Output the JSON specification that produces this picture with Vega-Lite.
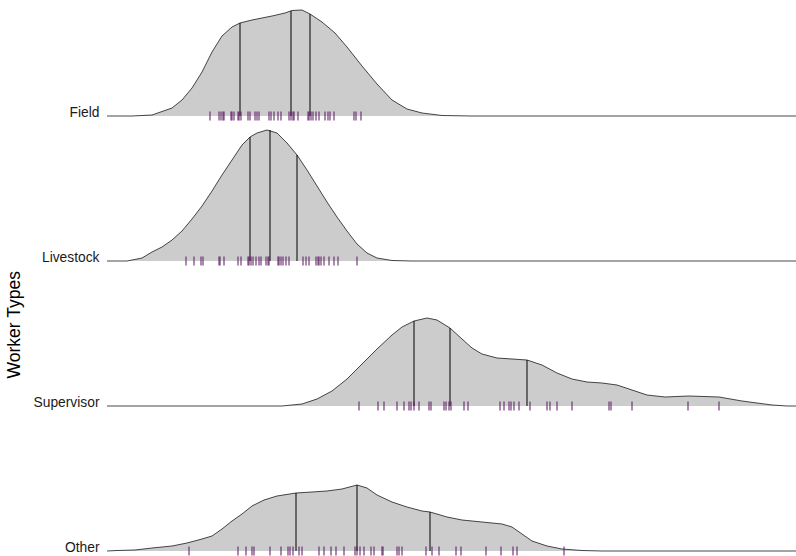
{
"$schema": "https://vega.github.io/schema/vega-lite/v6.json",
"padding": {"left": 5, "top": 0, "right": 0, "bottom": 0},
"background": "white",
"bounds": "flush",
"spacing": 29,
"title": {"text": "Worker Types", "orient": "left", "anchor": "middle", "fontSize": 17.5, "fontWeight": "normal", "font": "Liberation Sans", "color": "#000000", "dx": -47, "offset": 10},
"data": {"values": [
{"g":"Field","k":"c","x":0,"d":0},{"g":"Field","k":"c","x":2.5,"d":0},{"g":"Field","k":"c","x":4.5,"d":0.01},{"g":"Field","k":"c","x":6.5,"d":0.08},{"g":"Field","k":"c","x":7.5,"d":0.16},{"g":"Field","k":"c","x":8.5,"d":0.28},{"g":"Field","k":"c","x":9.5,"d":0.44},{"g":"Field","k":"c","x":10.5,"d":0.64},{"g":"Field","k":"c","x":11.5,"d":0.80},{"g":"Field","k":"c","x":12.5,"d":0.89},{"g":"Field","k":"c","x":13.3,"d":0.93},{"g":"Field","k":"c","x":14.5,"d":0.96},{"g":"Field","k":"c","x":15.5,"d":0.98},{"g":"Field","k":"c","x":16.5,"d":1.00},{"g":"Field","k":"c","x":17.8,"d":1.03},{"g":"Field","k":"c","x":18.5,"d":1.055},{"g":"Field","k":"c","x":19.5,"d":1.06},{"g":"Field","k":"c","x":20.3,"d":1.02},{"g":"Field","k":"c","x":21.5,"d":0.94},{"g":"Field","k":"c","x":22.8,"d":0.83},{"g":"Field","k":"c","x":24,"d":0.69},{"g":"Field","k":"c","x":25.5,"d":0.50},{"g":"Field","k":"c","x":27,"d":0.32},{"g":"Field","k":"c","x":28.5,"d":0.16},{"g":"Field","k":"c","x":30,"d":0.07},{"g":"Field","k":"c","x":31.5,"d":0.03},{"g":"Field","k":"c","x":33.5,"d":0.005},{"g":"Field","k":"c","x":36.5,"d":0},{"g":"Field","k":"c","x":69.1,"d":0},
{"g":"Field","k":"q","x":13.3,"d":0.93},{"g":"Field","k":"q","x":18.4,"d":1.05},{"g":"Field","k":"q","x":20.3,"d":1.02},
{"g":"Field","k":"r","x":10.3},{"g":"Field","k":"r","x":11.2},{"g":"Field","k":"r","x":11.4},{"g":"Field","k":"r","x":11.6},{"g":"Field","k":"r","x":11.7},{"g":"Field","k":"r","x":12.4},{"g":"Field","k":"r","x":12.5},{"g":"Field","k":"r","x":12.7},{"g":"Field","k":"r","x":13.1},{"g":"Field","k":"r","x":13.2},{"g":"Field","k":"r","x":13.4},{"g":"Field","k":"r","x":14.1},{"g":"Field","k":"r","x":14.3},{"g":"Field","k":"r","x":14.8},{"g":"Field","k":"r","x":15.0},{"g":"Field","k":"r","x":15.2},{"g":"Field","k":"r","x":16.2},{"g":"Field","k":"r","x":16.4},{"g":"Field","k":"r","x":16.7},{"g":"Field","k":"r","x":17.1},{"g":"Field","k":"r","x":17.4},{"g":"Field","k":"r","x":18.2},{"g":"Field","k":"r","x":18.4},{"g":"Field","k":"r","x":18.6},{"g":"Field","k":"r","x":18.7},{"g":"Field","k":"r","x":19.1},{"g":"Field","k":"r","x":20.1},{"g":"Field","k":"r","x":20.2},{"g":"Field","k":"r","x":20.4},{"g":"Field","k":"r","x":20.6},{"g":"Field","k":"r","x":20.9},{"g":"Field","k":"r","x":21.2},{"g":"Field","k":"r","x":21.8},{"g":"Field","k":"r","x":22.1},{"g":"Field","k":"r","x":22.3},{"g":"Field","k":"r","x":22.7},{"g":"Field","k":"r","x":24.7},{"g":"Field","k":"r","x":24.9},{"g":"Field","k":"r","x":25.4},
{"g":"Livestock","k":"c","x":0,"d":0},{"g":"Livestock","k":"c","x":2,"d":0},{"g":"Livestock","k":"c","x":3.5,"d":0.03},{"g":"Livestock","k":"c","x":4.5,"d":0.09},{"g":"Livestock","k":"c","x":5.5,"d":0.14},{"g":"Livestock","k":"c","x":6.5,"d":0.21},{"g":"Livestock","k":"c","x":7.5,"d":0.30},{"g":"Livestock","k":"c","x":8.5,"d":0.42},{"g":"Livestock","k":"c","x":9.5,"d":0.55},{"g":"Livestock","k":"c","x":10.5,"d":0.70},{"g":"Livestock","k":"c","x":11.5,"d":0.86},{"g":"Livestock","k":"c","x":12.5,"d":1.01},{"g":"Livestock","k":"c","x":13.5,"d":1.16},{"g":"Livestock","k":"c","x":14.3,"d":1.24},{"g":"Livestock","k":"c","x":15,"d":1.28},{"g":"Livestock","k":"c","x":16,"d":1.31},{"g":"Livestock","k":"c","x":17,"d":1.28},{"g":"Livestock","k":"c","x":18,"d":1.18},{"g":"Livestock","k":"c","x":19,"d":1.06},{"g":"Livestock","k":"c","x":20,"d":0.91},{"g":"Livestock","k":"c","x":21,"d":0.75},{"g":"Livestock","k":"c","x":22,"d":0.59},{"g":"Livestock","k":"c","x":23,"d":0.44},{"g":"Livestock","k":"c","x":24,"d":0.30},{"g":"Livestock","k":"c","x":25,"d":0.17},{"g":"Livestock","k":"c","x":26,"d":0.08},{"g":"Livestock","k":"c","x":27,"d":0.03},{"g":"Livestock","k":"c","x":28.5,"d":0.005},{"g":"Livestock","k":"c","x":30.5,"d":0},{"g":"Livestock","k":"c","x":69.1,"d":0},
{"g":"Livestock","k":"q","x":14.3,"d":1.24},{"g":"Livestock","k":"q","x":16.3,"d":1.31},{"g":"Livestock","k":"q","x":19,"d":1.06},
{"g":"Livestock","k":"r","x":7.9},{"g":"Livestock","k":"r","x":8.7},{"g":"Livestock","k":"r","x":9.4},{"g":"Livestock","k":"r","x":9.6},{"g":"Livestock","k":"r","x":11.2},{"g":"Livestock","k":"r","x":11.3},{"g":"Livestock","k":"r","x":11.7},{"g":"Livestock","k":"r","x":13.1},{"g":"Livestock","k":"r","x":13.4},{"g":"Livestock","k":"r","x":14.1},{"g":"Livestock","k":"r","x":14.2},{"g":"Livestock","k":"r","x":14.4},{"g":"Livestock","k":"r","x":14.6},{"g":"Livestock","k":"r","x":14.9},{"g":"Livestock","k":"r","x":15.2},{"g":"Livestock","k":"r","x":15.4},{"g":"Livestock","k":"r","x":15.9},{"g":"Livestock","k":"r","x":16.1},{"g":"Livestock","k":"r","x":16.2},{"g":"Livestock","k":"r","x":17.1},{"g":"Livestock","k":"r","x":17.2},{"g":"Livestock","k":"r","x":17.4},{"g":"Livestock","k":"r","x":17.6},{"g":"Livestock","k":"r","x":17.9},{"g":"Livestock","k":"r","x":18.2},{"g":"Livestock","k":"r","x":19.6},{"g":"Livestock","k":"r","x":19.9},{"g":"Livestock","k":"r","x":20.2},{"g":"Livestock","k":"r","x":20.9},{"g":"Livestock","k":"r","x":21.1},{"g":"Livestock","k":"r","x":21.2},{"g":"Livestock","k":"r","x":21.4},{"g":"Livestock","k":"r","x":21.7},{"g":"Livestock","k":"r","x":22.2},{"g":"Livestock","k":"r","x":22.7},{"g":"Livestock","k":"r","x":23.1},{"g":"Livestock","k":"r","x":25.0},
{"g":"Supervisor","k":"c","x":0,"d":0},{"g":"Supervisor","k":"c","x":17.5,"d":0},{"g":"Supervisor","k":"c","x":19.5,"d":0.02},{"g":"Supervisor","k":"c","x":21,"d":0.07},{"g":"Supervisor","k":"c","x":22.5,"d":0.15},{"g":"Supervisor","k":"c","x":24,"d":0.27},{"g":"Supervisor","k":"c","x":25.5,"d":0.42},{"g":"Supervisor","k":"c","x":27,"d":0.57},{"g":"Supervisor","k":"c","x":28.5,"d":0.71},{"g":"Supervisor","k":"c","x":29.5,"d":0.79},{"g":"Supervisor","k":"c","x":30.7,"d":0.85},{"g":"Supervisor","k":"c","x":32,"d":0.88},{"g":"Supervisor","k":"c","x":33,"d":0.86},{"g":"Supervisor","k":"c","x":34.3,"d":0.78},{"g":"Supervisor","k":"c","x":35.5,"d":0.67},{"g":"Supervisor","k":"c","x":36.5,"d":0.58},{"g":"Supervisor","k":"c","x":37.5,"d":0.52},{"g":"Supervisor","k":"c","x":39,"d":0.48},{"g":"Supervisor","k":"c","x":40.5,"d":0.47},{"g":"Supervisor","k":"c","x":42,"d":0.46},{"g":"Supervisor","k":"c","x":43.5,"d":0.41},{"g":"Supervisor","k":"c","x":45,"d":0.33},{"g":"Supervisor","k":"c","x":46.5,"d":0.27},{"g":"Supervisor","k":"c","x":48,"d":0.24},{"g":"Supervisor","k":"c","x":49.5,"d":0.23},{"g":"Supervisor","k":"c","x":51,"d":0.21},{"g":"Supervisor","k":"c","x":52.5,"d":0.16},{"g":"Supervisor","k":"c","x":54,"d":0.11},{"g":"Supervisor","k":"c","x":55.8,"d":0.09},{"g":"Supervisor","k":"c","x":58.2,"d":0.10},{"g":"Supervisor","k":"c","x":61.2,"d":0.09},{"g":"Supervisor","k":"c","x":63.5,"d":0.05},{"g":"Supervisor","k":"c","x":65,"d":0.03},{"g":"Supervisor","k":"c","x":66.5,"d":0.01},{"g":"Supervisor","k":"c","x":68,"d":0},{"g":"Supervisor","k":"c","x":69.1,"d":0},
{"g":"Supervisor","k":"q","x":30.7,"d":0.85},{"g":"Supervisor","k":"q","x":34.3,"d":0.78},{"g":"Supervisor","k":"q","x":42,"d":0.46},
{"g":"Supervisor","k":"r","x":25.2},{"g":"Supervisor","k":"r","x":27.1},{"g":"Supervisor","k":"r","x":27.7},{"g":"Supervisor","k":"r","x":29.0},{"g":"Supervisor","k":"r","x":29.7},{"g":"Supervisor","k":"r","x":30.2},{"g":"Supervisor","k":"r","x":30.4},{"g":"Supervisor","k":"r","x":30.7},{"g":"Supervisor","k":"r","x":31.2},{"g":"Supervisor","k":"r","x":32.2},{"g":"Supervisor","k":"r","x":32.4},{"g":"Supervisor","k":"r","x":33.7},{"g":"Supervisor","k":"r","x":33.9},{"g":"Supervisor","k":"r","x":34.2},{"g":"Supervisor","k":"r","x":34.4},{"g":"Supervisor","k":"r","x":35.7},{"g":"Supervisor","k":"r","x":36.1},{"g":"Supervisor","k":"r","x":39.3},{"g":"Supervisor","k":"r","x":39.7},{"g":"Supervisor","k":"r","x":40.2},{"g":"Supervisor","k":"r","x":40.4},{"g":"Supervisor","k":"r","x":40.7},{"g":"Supervisor","k":"r","x":41.2},{"g":"Supervisor","k":"r","x":42.3},{"g":"Supervisor","k":"r","x":44.0},{"g":"Supervisor","k":"r","x":44.3},{"g":"Supervisor","k":"r","x":45.0},{"g":"Supervisor","k":"r","x":46.5},{"g":"Supervisor","k":"r","x":50.2},{"g":"Supervisor","k":"r","x":50.4},{"g":"Supervisor","k":"r","x":52.5},{"g":"Supervisor","k":"r","x":58.1},{"g":"Supervisor","k":"r","x":61.2},
{"g":"Other","k":"c","x":0,"d":0},{"g":"Other","k":"c","x":1,"d":0.005},{"g":"Other","k":"c","x":2.8,"d":0.01},{"g":"Other","k":"c","x":4.5,"d":0.03},{"g":"Other","k":"c","x":6.5,"d":0.05},{"g":"Other","k":"c","x":8,"d":0.08},{"g":"Other","k":"c","x":9.5,"d":0.12},{"g":"Other","k":"c","x":10.5,"d":0.15},{"g":"Other","k":"c","x":11.5,"d":0.22},{"g":"Other","k":"c","x":12.5,"d":0.30},{"g":"Other","k":"c","x":13.5,"d":0.37},{"g":"Other","k":"c","x":14.5,"d":0.45},{"g":"Other","k":"c","x":15.7,"d":0.51},{"g":"Other","k":"c","x":17,"d":0.55},{"g":"Other","k":"c","x":18.9,"d":0.58},{"g":"Other","k":"c","x":20.5,"d":0.59},{"g":"Other","k":"c","x":22,"d":0.60},{"g":"Other","k":"c","x":23.5,"d":0.62},{"g":"Other","k":"c","x":25,"d":0.66},{"g":"Other","k":"c","x":26,"d":0.63},{"g":"Other","k":"c","x":27,"d":0.56},{"g":"Other","k":"c","x":28.5,"d":0.49},{"g":"Other","k":"c","x":30,"d":0.44},{"g":"Other","k":"c","x":31.5,"d":0.40},{"g":"Other","k":"c","x":32.3,"d":0.39},{"g":"Other","k":"c","x":34,"d":0.34},{"g":"Other","k":"c","x":35.5,"d":0.31},{"g":"Other","k":"c","x":37.5,"d":0.29},{"g":"Other","k":"c","x":39.5,"d":0.27},{"g":"Other","k":"c","x":40.5,"d":0.24},{"g":"Other","k":"c","x":41.5,"d":0.17},{"g":"Other","k":"c","x":42.5,"d":0.10},{"g":"Other","k":"c","x":44,"d":0.05},{"g":"Other","k":"c","x":45.5,"d":0.02},{"g":"Other","k":"c","x":47.5,"d":0.005},{"g":"Other","k":"c","x":49.5,"d":0},{"g":"Other","k":"c","x":69.1,"d":0},
{"g":"Other","k":"q","x":18.9,"d":0.58},{"g":"Other","k":"q","x":25,"d":0.66},{"g":"Other","k":"q","x":32.3,"d":0.39},
{"g":"Other","k":"r","x":8.2},{"g":"Other","k":"r","x":13.1},{"g":"Other","k":"r","x":13.9},{"g":"Other","k":"r","x":14.5},{"g":"Other","k":"r","x":14.7},{"g":"Other","k":"r","x":16.3},{"g":"Other","k":"r","x":17.4},{"g":"Other","k":"r","x":18.1},{"g":"Other","k":"r","x":18.3},{"g":"Other","k":"r","x":18.6},{"g":"Other","k":"r","x":19.2},{"g":"Other","k":"r","x":19.5},{"g":"Other","k":"r","x":21.2},{"g":"Other","k":"r","x":21.7},{"g":"Other","k":"r","x":22.4},{"g":"Other","k":"r","x":22.9},{"g":"Other","k":"r","x":23.7},{"g":"Other","k":"r","x":24.8},{"g":"Other","k":"r","x":25.0},{"g":"Other","k":"r","x":25.3},{"g":"Other","k":"r","x":25.7},{"g":"Other","k":"r","x":26.4},{"g":"Other","k":"r","x":26.7},{"g":"Other","k":"r","x":27.5},{"g":"Other","k":"r","x":27.6},{"g":"Other","k":"r","x":29.0},{"g":"Other","k":"r","x":29.2},{"g":"Other","k":"r","x":29.5},{"g":"Other","k":"r","x":31.9},{"g":"Other","k":"r","x":32.5},{"g":"Other","k":"r","x":33.2},{"g":"Other","k":"r","x":34.9},{"g":"Other","k":"r","x":35.4},{"g":"Other","k":"r","x":37.9},{"g":"Other","k":"r","x":39.4},{"g":"Other","k":"r","x":40.6},{"g":"Other","k":"r","x":41.0},{"g":"Other","k":"r","x":45.7}
]},
"vconcat": [
  {"transform": [{"filter": "datum.g === 'Field'"}], "width": 691, "height": 116,
   "layer": [
     {"transform": [{"filter": "datum.k === 'c'"}], "mark": {"type": "area", "color": "#cccccc", "opacity": 1, "line": {"color": "#1a1a1a", "strokeWidth": 0.8}},
      "encoding": {"x": {"field": "x", "type": "quantitative", "scale": {"domain": [0, 69.1], "nice": false, "zero": false}, "axis": null},
                   "y": {"field": "d", "type": "quantitative", "scale": {"domain": [0, 1.16], "nice": false}, "title": "Field"}}},
     {"transform": [{"filter": "datum.k === 'q'"}], "mark": {"type": "rule", "color": "#000000", "strokeWidth": 1},
      "encoding": {"x": {"field": "x", "type": "quantitative"}, "y": {"field": "d", "type": "quantitative", "title": "Field"}, "y2": {"datum": 0}}},
     {"transform": [{"filter": "datum.k === 'r'"}], "mark": {"type": "tick", "orient": "vertical", "size": 9, "thickness": 1, "color": "#5a1460", "opacity": 1},
      "encoding": {"x": {"field": "x", "type": "quantitative"}, "y": {"datum": 0, "type": "quantitative", "title": "Field"}}}
   ]},
  {"transform": [{"filter": "datum.g === 'Livestock'"}], "width": 691, "height": 116,
   "layer": [
     {"transform": [{"filter": "datum.k === 'c'"}], "mark": {"type": "area", "color": "#cccccc", "opacity": 1, "line": {"color": "#1a1a1a", "strokeWidth": 0.8}},
      "encoding": {"x": {"field": "x", "type": "quantitative", "scale": {"domain": [0, 69.1], "nice": false, "zero": false}, "axis": null},
                   "y": {"field": "d", "type": "quantitative", "scale": {"domain": [0, 1.16], "nice": false}, "title": "Livestock"}}},
     {"transform": [{"filter": "datum.k === 'q'"}], "mark": {"type": "rule", "color": "#000000", "strokeWidth": 1},
      "encoding": {"x": {"field": "x", "type": "quantitative"}, "y": {"field": "d", "type": "quantitative", "title": "Livestock"}, "y2": {"datum": 0}}},
     {"transform": [{"filter": "datum.k === 'r'"}], "mark": {"type": "tick", "orient": "vertical", "size": 9, "thickness": 1, "color": "#5a1460", "opacity": 1},
      "encoding": {"x": {"field": "x", "type": "quantitative"}, "y": {"datum": 0, "type": "quantitative", "title": "Livestock"}}}
   ]},
  {"transform": [{"filter": "datum.g === 'Supervisor'"}], "width": 691, "height": 116,
   "layer": [
     {"transform": [{"filter": "datum.k === 'c'"}], "mark": {"type": "area", "color": "#cccccc", "opacity": 1, "line": {"color": "#1a1a1a", "strokeWidth": 0.8}},
      "encoding": {"x": {"field": "x", "type": "quantitative", "scale": {"domain": [0, 69.1], "nice": false, "zero": false}, "axis": null},
                   "y": {"field": "d", "type": "quantitative", "scale": {"domain": [0, 1.16], "nice": false}, "title": "Supervisor"}}},
     {"transform": [{"filter": "datum.k === 'q'"}], "mark": {"type": "rule", "color": "#000000", "strokeWidth": 1},
      "encoding": {"x": {"field": "x", "type": "quantitative"}, "y": {"field": "d", "type": "quantitative", "title": "Supervisor"}, "y2": {"datum": 0}}},
     {"transform": [{"filter": "datum.k === 'r'"}], "mark": {"type": "tick", "orient": "vertical", "size": 9, "thickness": 1, "color": "#5a1460", "opacity": 1},
      "encoding": {"x": {"field": "x", "type": "quantitative"}, "y": {"datum": 0, "type": "quantitative", "title": "Supervisor"}}}
   ]},
  {"transform": [{"filter": "datum.g === 'Other'"}], "width": 691, "height": 116,
   "layer": [
     {"transform": [{"filter": "datum.k === 'c'"}], "mark": {"type": "area", "color": "#cccccc", "opacity": 1, "line": {"color": "#1a1a1a", "strokeWidth": 0.8}},
      "encoding": {"x": {"field": "x", "type": "quantitative", "scale": {"domain": [0, 69.1], "nice": false, "zero": false}, "axis": null},
                   "y": {"field": "d", "type": "quantitative", "scale": {"domain": [0, 1.16], "nice": false}, "title": "Other"}}},
     {"transform": [{"filter": "datum.k === 'q'"}], "mark": {"type": "rule", "color": "#000000", "strokeWidth": 1},
      "encoding": {"x": {"field": "x", "type": "quantitative"}, "y": {"field": "d", "type": "quantitative", "title": "Other"}, "y2": {"datum": 0}}},
     {"transform": [{"filter": "datum.k === 'r'"}], "mark": {"type": "tick", "orient": "vertical", "size": 9, "thickness": 1, "color": "#5a1460", "opacity": 1},
      "encoding": {"x": {"field": "x", "type": "quantitative"}, "y": {"datum": 0, "type": "quantitative", "title": "Other"}}}
   ]}
],
"config": {
  "view": {"stroke": null},
  "tick": {"opacity": 1},
  "axisY": {"titleAngle": 0, "titleAlign": "right", "titleBaseline": "alphabetic", "titleX": -8, "titleY": 116, "labels": false, "ticks": false, "domain": false, "grid": false, "titleFont": "Liberation Sans", "titleFontSize": 13.8, "titleFontWeight": "normal", "titleColor": "#1a1a1a"}
}
}
